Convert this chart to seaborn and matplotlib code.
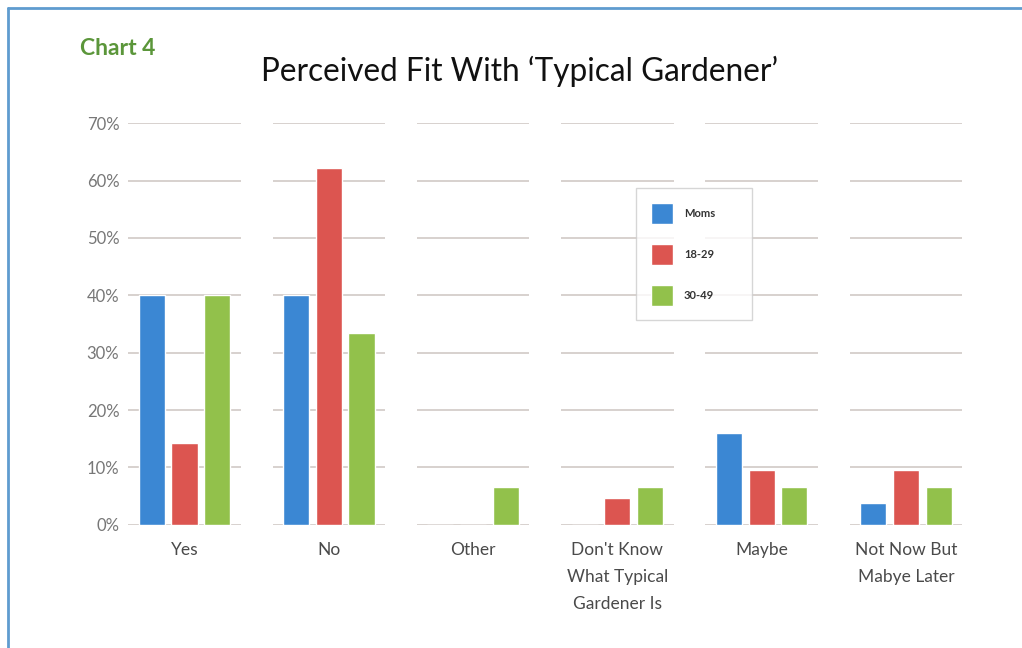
import matplotlib
matplotlib.use("Agg")
import matplotlib.pyplot as plt
from matplotlib.lines import Line2D
import pandas as pd
import seaborn as sns

# Chart data (percent)
categories = ["Yes", "No", "Other", "Don't Know\nWhat Typical\nGardener Is",
              "Maybe", "Not Now But\nMabye Later"]
groups = ["Moms", "18-29", "30-49"]
moms = [40, 40, 0, 0, 16, 3.8]
age_18_29 = [14.3, 62.2, 0, 4.7, 9.6, 9.6]
age_30_49 = [40, 33.4, 6.6, 6.6, 6.6, 6.6]
y_ticks = [0, 10, 20, 30, 40, 50, 60, 70]
colors = ["#3b87d3", "#dc5550", "#92c14b"]

df = pd.DataFrame({
    "category": categories * 3,
    "group": [groups[0]] * 6 + [groups[1]] * 6 + [groups[2]] * 6,
    "value": moms + age_18_29 + age_30_49,
})

sns.set_theme(style="white")
plt.rcParams['font.family'] = ['Lato', 'DejaVu Sans']

fig = plt.figure(figsize=(10.22, 6.48), dpi=100)
ax = fig.add_axes([0.11, 0.19, 0.847, 0.62])

# Broken gridlines, one segment per category
for i in range(len(categories)):
    ax.hlines(y_ticks, i - 0.39, i + 0.39, color="#cdc5c1", lw=1.1, zorder=0)

sns.barplot(data=df, x="category", y="value", hue="group", order=categories,
            hue_order=groups, palette=colors, width=0.68, gap=0.2,
            saturation=1, ax=ax, zorder=2)

ax.set_ylim(0, 70)
ax.set_xlim(-0.5, len(categories) - 0.5)
ax.set_yticks(y_ticks)
ax.set_yticklabels([f"{t}%" for t in y_ticks], color="#777777", fontsize=12)
ax.tick_params(axis="x", colors="#4a4a4a", labelsize=12.5, length=0, pad=12)
ax.tick_params(axis="y", length=0, pad=-5)
for lab in ax.get_xticklabels():
    lab.set_linespacing(1.85)
ax.set_xlabel("")
ax.set_ylabel("")
sns.despine(ax=ax, left=True, bottom=True)

leg = ax.legend(loc="upper left", bbox_to_anchor=(0.605, 0.495, 0.134, 0.343),
                mode="expand", borderaxespad=0, frameon=True, fancybox=False,
                edgecolor="#cccccc", fontsize=8,
                handlelength=2.0, handleheight=2.6, labelspacing=1.75,
                borderpad=1.3, handletextpad=1.0)
for t in leg.get_texts():
    t.set_fontweight("bold")
    t.set_color("#333333")

fig.text(0.078, 0.925, "Chart 4", color="#5b963a", fontsize=16.5,
         fontweight="bold", ha="left", va="center")
fig.text(0.508, 0.89, "Perceived Fit With \u2018Typical Gardener\u2019",
         color="#111111", fontsize=22.7, ha="center", va="center")

# Blue frame lines at top and left
fig.add_artist(Line2D([0.008, 1.0], [0.988, 0.988], color="#5f9ccf", lw=2))
fig.add_artist(Line2D([0.008, 0.008], [0.0, 0.988], color="#5f9ccf", lw=2))

fig.savefig("out.png", dpi=100)
